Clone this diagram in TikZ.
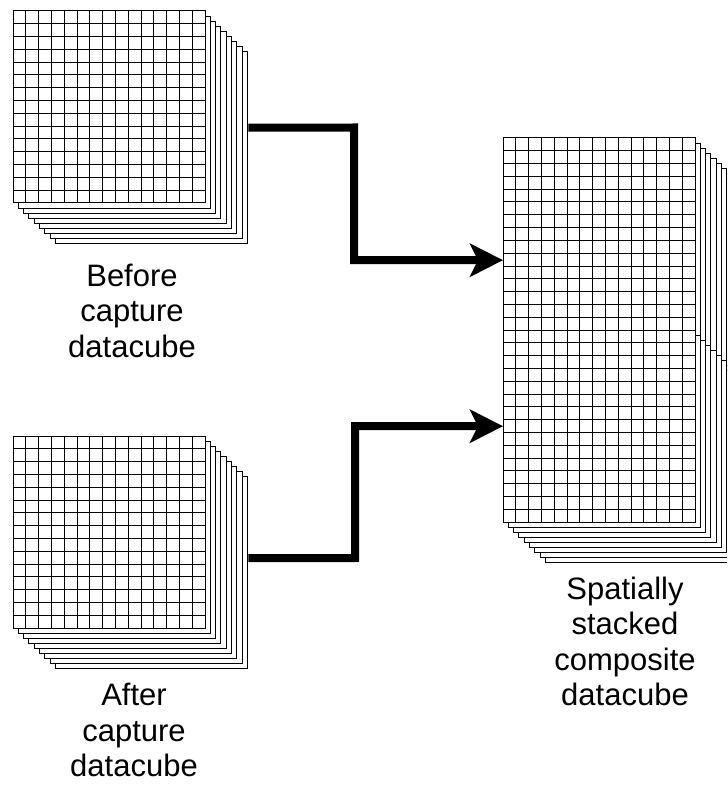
\documentclass[tikz,border=0pt]{standalone}
\usepackage{fontspec}
\setmainfont{Liberation Sans}
\usetikzlibrary{arrows.meta}
\newcommand\datacubeAt[3]{%
  \foreach \k in {#3,...,1}{%
    \draw[layer] ({#1+5.3*\k},{#2+5.1*\k}) rectangle +(192,192);
  }%
  \draw[layer] (#1,#2) rectangle +(192,192);
  \foreach \i in {1,...,14}{%
    \draw[gridline] ({#1+\i*12.8},#2) -- +(0,192);
    \draw[gridline] (#1,{#2+\i*12.8}) -- +(192,0);
  }%
}
\tikzset{
  layer/.style={draw=black, fill=white, line width=1pt},
  gridline/.style={draw=black, line width=1pt},
  cubebox/.style={rectangle, draw=none, inner sep=0pt, anchor=north west},
  flow/.style={draw=black, line width=8pt, line join=miter,
    -{Stealth[length=33pt,width=33pt,inset=8pt]}},
  label/.style={font=\fontsize{31}{35.3}\selectfont, align=center, inner sep=0pt}
}
\begin{document}
\begin{tikzpicture}[x=1pt,y=-1pt]
\useasboundingbox (0,0) rectangle (727,791);
\fill[white] (0,0) rectangle (727,791);
\clip (0,0) rectangle (727,791);

% cubes
\datacubeAt{13}{11}{8}
\datacubeAt{13}{436}{8}
\datacubeAt{503}{138}{8}
\datacubeAt{503}{330}{8}

% named boxes of the cubes
\node[cubebox, minimum width=235pt, minimum height=232pt] (before) at (13,11) {};
\node[cubebox, minimum width=235pt, minimum height=235pt] (after) at (13,436) {};
\node[cubebox, minimum width=235pt, minimum height=425pt] (composite) at (503,138) {};

% labels (anchor=base is the baseline of the last line)
\node[label, anchor=base] (beforelbl) at (132,357) {Before\\capture\\datacube};
\node[label, anchor=base] (afterlbl) at (134,776.5) {After\\capture\\datacube};
\node[label, anchor=base] (complbl) at (625,705.5) {Spatially\\stacked\\composite\\datacube};

% connectors
\coordinate (bend1) at (354,127.5);
\coordinate (bend2) at (355,558);
\draw[flow] ([yshift=-0.5pt]before.east) -- (bend1) |- ([yshift=90.5pt]composite.west);
\draw[flow] ([yshift=-4.5pt]after.east) -- (bend2) |- ([yshift=-75.5pt]composite.west);
\end{tikzpicture}
\end{document}
